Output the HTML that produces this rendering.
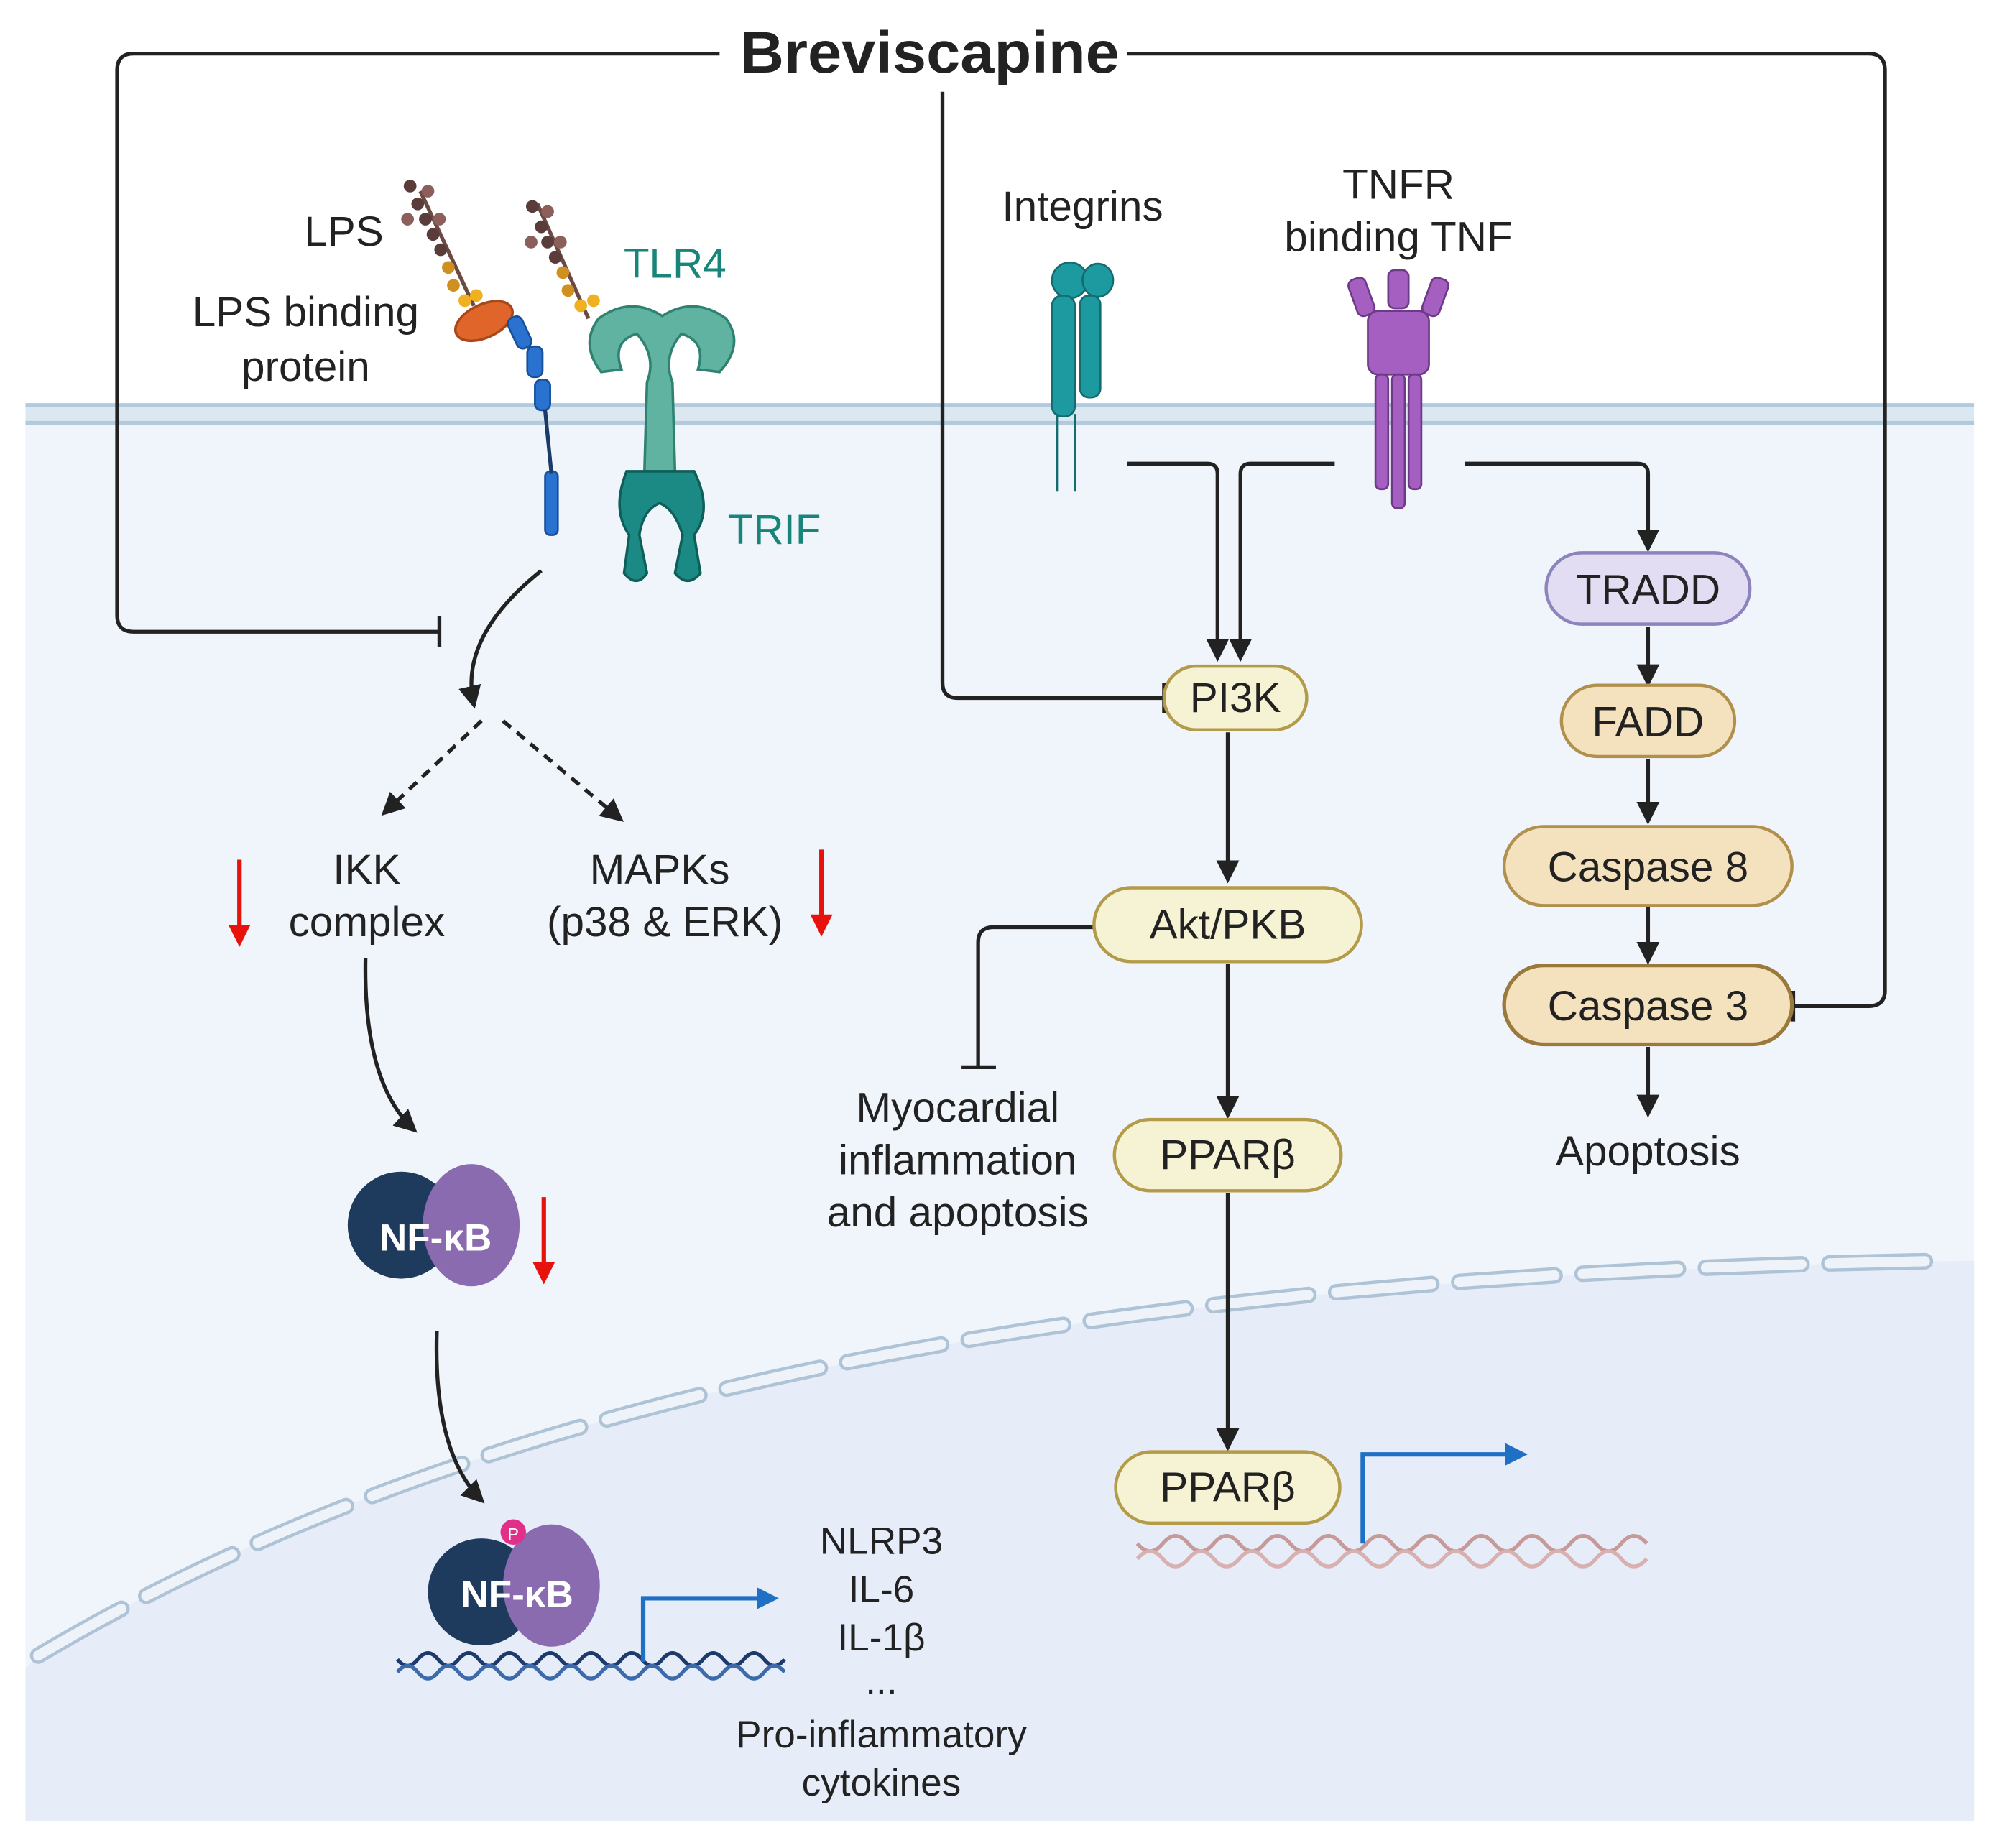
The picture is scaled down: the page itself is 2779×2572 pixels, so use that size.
<!DOCTYPE html>
<html><head><meta charset="utf-8"><style>
html,body{margin:0;padding:0;background:#fff;}
svg{display:block;}
text{font-family:"Liberation Sans",sans-serif;fill:#222;}
</style></head><body>
<svg width="2779" height="2572" viewBox="0 0 1568 1451" xmlns="http://www.w3.org/2000/svg">
<defs>
<marker id="ah" viewBox="0 0 10 10" refX="8" refY="5" markerWidth="6" markerHeight="6" orient="auto"><path d="M0,0 L10,5 L0,10 z" fill="#222"/></marker>
<marker id="ahb" viewBox="0 0 10 10" refX="8" refY="5" markerWidth="5" markerHeight="5" orient="auto"><path d="M0,0 L10,5 L0,10 z" fill="#1f6fc4"/></marker>
<marker id="ahr" viewBox="0 0 10 10" refX="8" refY="5" markerWidth="5" markerHeight="5" orient="auto"><path d="M0,0 L10,5 L0,10 z" fill="#e8120c"/></marker>
</defs>
<rect width="1568" height="1451" fill="#fff"/>
<rect x="20" y="325" width="1530" height="1105" fill="#f0f5fb"/>
<path d="M20,1310 L30,1300 C400,1080 900,1000 1550,990 L1550,1430 L20,1430 z" fill="#e6edf8"/>
<path d="M30,1300 C400,1080 900,1000 1530,990" fill="none" stroke="#aec3d6" stroke-width="13" stroke-dasharray="75,22" stroke-linecap="round"/>
<path d="M30,1300 C400,1080 900,1000 1530,990" fill="none" stroke="#eef3f9" stroke-width="8" stroke-dasharray="75,22" stroke-linecap="round"/>
<rect x="20" y="318" width="1530" height="14" fill="#dbe7f1"/>
<line x1="20" y1="318" x2="1550" y2="318" stroke="#b3c9dc" stroke-width="3"/>
<line x1="20" y1="332" x2="1550" y2="332" stroke="#b3c9dc" stroke-width="3"/>

<g fill="none" stroke="#222" stroke-width="3">
<path d="M565,42 L105,42 Q92,42 92,55 L92,483 Q92,496 105,496 L345,496"/>
<line x1="345" y1="484" x2="345" y2="508"/>
<path d="M885,42 L1467,42 Q1480,42 1480,55 L1480,778 Q1480,790 1467,790 L1408,790"/>
<line x1="1408" y1="778" x2="1408" y2="802"/>
<path d="M740,72 L740,536 Q740,548 752,548 L913,548"/>
<line x1="914" y1="536" x2="914" y2="560"/>
<path d="M885,364 L948,364 Q956,364 956,372 L956,516" marker-end="url(#ah)"/>
<path d="M1048,364 L982,364 Q974,364 974,372 L974,516" marker-end="url(#ah)"/>
<path d="M1150,364 L1286,364 Q1294,364 1294,372 L1294,430" marker-end="url(#ah)"/>
<line x1="964" y1="575" x2="964" y2="690" marker-end="url(#ah)"/>
<line x1="964" y1="757" x2="964" y2="875" marker-end="url(#ah)"/>
<line x1="964" y1="937" x2="964" y2="1136" marker-end="url(#ah)"/>
<line x1="1294" y1="492" x2="1294" y2="536" marker-end="url(#ah)"/>
<line x1="1294" y1="596" x2="1294" y2="644" marker-end="url(#ah)"/>
<line x1="1294" y1="712" x2="1294" y2="754" marker-end="url(#ah)"/>
<line x1="1294" y1="822" x2="1294" y2="874" marker-end="url(#ah)"/>
<path d="M858,728 L780,728 Q768,728 768,740 L768,838"/>
<line x1="755" y1="838" x2="782" y2="838"/>
<path d="M425,448 Q360,500 372,553" marker-end="url(#ah)"/>
<path d="M378,566 L302,638" stroke-dasharray="8,6" marker-end="url(#ah)"/>
<path d="M395,566 L487,643" stroke-dasharray="8,6" marker-end="url(#ah)"/>
<path d="M287,752 Q285,850 325,887" marker-end="url(#ah)"/>
<path d="M343,1045 Q340,1140 378,1178" marker-end="url(#ah)"/>
</g>
<g stroke="#e8120c" stroke-width="3.5"><line x1="188" y1="675" x2="188" y2="740" marker-end="url(#ahr)"/><line x1="645" y1="667" x2="645" y2="732" marker-end="url(#ahr)"/><line x1="427" y1="940" x2="427" y2="1005" marker-end="url(#ahr)"/></g>

<g stroke-width="2.5">
<rect x="914" y="523" width="112" height="50" rx="25" fill="#f6f2d4" stroke="#b39b4a"/>
<rect x="859" y="697" width="210" height="58" rx="29" fill="#f6f2d4" stroke="#b39b4a"/>
<rect x="875" y="879" width="178" height="56" rx="28" fill="#f6f2d4" stroke="#b39b4a"/>
<rect x="876" y="1140" width="176" height="56" rx="28" fill="#f6f2d4" stroke="#b39b4a"/>
<rect x="1214" y="434" width="160" height="56" rx="28" fill="#e2ddf3" stroke="#8e84bd"/>
<rect x="1226" y="538" width="136" height="56" rx="28" fill="#f3e2bd" stroke="#b0904c"/>
<rect x="1181" y="649" width="226" height="62" rx="31" fill="#f3e2bd" stroke="#b0904c"/>
<rect x="1181" y="758" width="226" height="62" rx="31" fill="#f3e2bd" stroke="#9a7a3c" stroke-width="3"/>
</g>
<g font-size="33" text-anchor="middle">
<text x="970" y="559">PI3K</text>
<text x="964" y="737">Akt/PKB</text>
<text x="964" y="918">PPARβ</text>
<text x="964" y="1179">PPARβ</text>
<text x="1294" y="474">TRADD</text>
<text x="1294" y="578">FADD</text>
<text x="1294" y="692">Caspase 8</text>
<text x="1294" y="801">Caspase 3</text>
<text x="1294" y="915">Apoptosis</text>
<text x="752" y="881">Myocardial</text>
<text x="752" y="922">inflammation</text>
<text x="752" y="963">and apoptosis</text>
<text x="288" y="694">IKK</text>
<text x="288" y="735">complex</text>
<text x="518" y="694">MAPKs</text>
<text x="522" y="735">(p38 &amp; ERK)</text>
<text x="850" y="173">Integrins</text>
<text x="1098" y="156">TNFR</text>
<text x="1098" y="197">binding TNF</text>
<text x="270" y="193">LPS</text>
<text x="240" y="256">LPS binding</text>
<text x="240" y="299">protein</text>
<text x="530" y="218" style="fill:#17857a">TLR4</text>
<text x="608" y="427" style="fill:#17857a">TRIF</text>
</g>
<g font-size="30" text-anchor="middle">
<text x="692" y="1220">NLRP3</text><text x="692" y="1258">IL-6</text><text x="692" y="1296">IL-1β</text><text x="692" y="1330">...</text>
<text x="692" y="1372">Pro-inflammatory</text><text x="692" y="1410">cytokines</text>
</g>
<text x="730" y="57" font-size="46" font-weight="bold" text-anchor="middle" textLength="298" lengthAdjust="spacingAndGlyphs">Breviscapine</text>

<g>
<line x1="330" y1="150" x2="372" y2="240" stroke="#6b4a44" stroke-width="3"/>
<circle cx="322" cy="146" r="5" fill="#5a3d3b"/><circle cx="336" cy="150" r="5" fill="#8c5f5a"/><circle cx="328" cy="160" r="5" fill="#5a3d3b"/><circle cx="320" cy="172" r="5" fill="#8c5f5a"/><circle cx="334" cy="172" r="5" fill="#5a3d3b"/><circle cx="345" cy="172" r="5" fill="#8c5f5a"/><circle cx="340" cy="184" r="5" fill="#5a3d3b"/><circle cx="346" cy="196" r="5" fill="#5a3d3b"/><circle cx="352" cy="210" r="5" fill="#d09020"/><circle cx="356" cy="224" r="5" fill="#d09020"/><circle cx="365" cy="236" r="5" fill="#f0b020"/><circle cx="374" cy="232" r="5" fill="#f0b020"/>
<line x1="422" y1="160" x2="462" y2="250" stroke="#6b4a44" stroke-width="3"/>
<circle cx="418" cy="162" r="5" fill="#5a3d3b"/><circle cx="430" cy="166" r="5" fill="#8c5f5a"/><circle cx="425" cy="178" r="5" fill="#5a3d3b"/><circle cx="417" cy="190" r="5" fill="#8c5f5a"/><circle cx="430" cy="190" r="5" fill="#5a3d3b"/><circle cx="440" cy="190" r="5" fill="#8c5f5a"/><circle cx="436" cy="202" r="5" fill="#5a3d3b"/><circle cx="442" cy="214" r="5" fill="#d09020"/><circle cx="446" cy="228" r="5" fill="#d09020"/><circle cx="456" cy="240" r="5" fill="#f0b020"/><circle cx="466" cy="236" r="5" fill="#f0b020"/>
<ellipse cx="380" cy="252" rx="24" ry="13" transform="rotate(-25 380 252)" fill="#e0652a" stroke="#a84818" stroke-width="2"/>
<g fill="#2a72d0" stroke="#18509a" stroke-width="1.5">
<rect x="402" y="248" width="12" height="26" rx="5" transform="rotate(-25 408 261)"/>
<rect x="414" y="272" width="12" height="24" rx="5"/><rect x="420" y="298" width="12" height="24" rx="5"/>
<rect x="428" y="370" width="10" height="50" rx="4"/></g>
<line x1="428" y1="322" x2="433" y2="372" stroke="#1a3a6a" stroke-width="3"/>
</g>
<g fill="#5fb3a0" stroke="#2f8270" stroke-width="2">
<path d="M470,250 Q495,232 520,248 Q545,232 570,250 Q585,270 565,292 L548,290 Q555,268 535,262 Q520,280 528,300 L530,370 L506,370 L508,300 Q516,280 500,262 Q480,268 488,290 L472,292 Q455,270 470,250 z"/>
<path d="M492,370 L545,370 Q560,400 545,420 L550,450 Q540,462 530,450 L536,420 Q530,400 518,395 Q505,400 502,420 L508,450 Q500,462 490,450 L494,420 Q480,400 492,370 z" fill="#1c8a84" stroke="#0e5e5a"/>
</g>
<g fill="#1d9aa0" stroke="#136c70" stroke-width="1.5">
<ellipse cx="840" cy="220" rx="14" ry="14"/><ellipse cx="862" cy="220" rx="12" ry="13"/>
<rect x="826" y="232" width="18" height="95" rx="8"/><rect x="848" y="232" width="16" height="80" rx="7"/>
<line x1="830" y1="325" x2="830" y2="386"/><line x1="844" y1="325" x2="844" y2="386"/>
</g>
<g fill="#a45fc0" stroke="#6d3a88" stroke-width="1.5">
<rect x="1062" y="218" width="14" height="30" rx="5" transform="rotate(-20 1069 233)"/>
<rect x="1120" y="218" width="14" height="30" rx="5" transform="rotate(20 1127 233)"/>
<rect x="1090" y="212" width="16" height="30" rx="5"/>
<rect x="1074" y="244" width="48" height="50" rx="8"/>
<rect x="1080" y="294" width="10" height="90" rx="4"/><rect x="1093" y="294" width="10" height="105" rx="4"/><rect x="1106" y="294" width="10" height="90" rx="4"/>
</g>
<g>
<ellipse cx="315" cy="962" rx="42" ry="42" fill="#1e3a5c"/><ellipse cx="370" cy="962" rx="38" ry="48" fill="#8a6bb0"/>
<text x="342" y="982" font-size="30" font-weight="bold" text-anchor="middle" style="fill:#fff">NF-κB</text>
<ellipse cx="378" cy="1250" rx="42" ry="42" fill="#1e3a5c"/><ellipse cx="433" cy="1245" rx="38" ry="48" fill="#8a6bb0"/>
<text x="406" y="1262" font-size="30" font-weight="bold" text-anchor="middle" style="fill:#fff">NF-κB</text>
<circle cx="403" cy="1203" r="10" fill="#e0308a"/><text x="403" y="1209" font-size="13" text-anchor="middle" style="fill:#fff">P</text>
</g>
<path d="M312,1303 q8,10 16,0 t16,0 t16,0 t16,0 t16,0 t16,0 t16,0 t16,0 t16,0 t16,0 t16,0 t16,0 t16,0 t16,0 t16,0 t16,0 t16,0 t16,0 t16,0" fill="none" stroke="#1e3a6c" stroke-width="3"/>
<path d="M312,1313 q8,-10 16,0 t16,0 t16,0 t16,0 t16,0 t16,0 t16,0 t16,0 t16,0 t16,0 t16,0 t16,0 t16,0 t16,0 t16,0 t16,0 t16,0 t16,0 t16,0" fill="none" stroke="#3c6aaa" stroke-width="3"/>
<path d="M893,1212 q10,12 20,0 t20,0 t20,0 t20,0 t20,0 t20,0 t20,0 t20,0 t20,0 t20,0 t20,0 t20,0 t20,0 t20,0 t20,0 t20,0 t20,0 t20,0 t20,0 t20,0" fill="none" stroke="#c79a9a" stroke-width="3"/>
<path d="M893,1224 q10,-12 20,0 t20,0 t20,0 t20,0 t20,0 t20,0 t20,0 t20,0 t20,0 t20,0 t20,0 t20,0 t20,0 t20,0 t20,0 t20,0 t20,0 t20,0 t20,0 t20,0" fill="none" stroke="#d8b0b0" stroke-width="3"/>
<g fill="none" stroke="#1f6fc4" stroke-width="3.5">
<path d="M505,1305 L505,1255 L608,1255" marker-end="url(#ahb)"/>
<path d="M1070,1212 L1070,1142 L1196,1142" marker-end="url(#ahb)"/>
</g>
</svg>
</body></html>
